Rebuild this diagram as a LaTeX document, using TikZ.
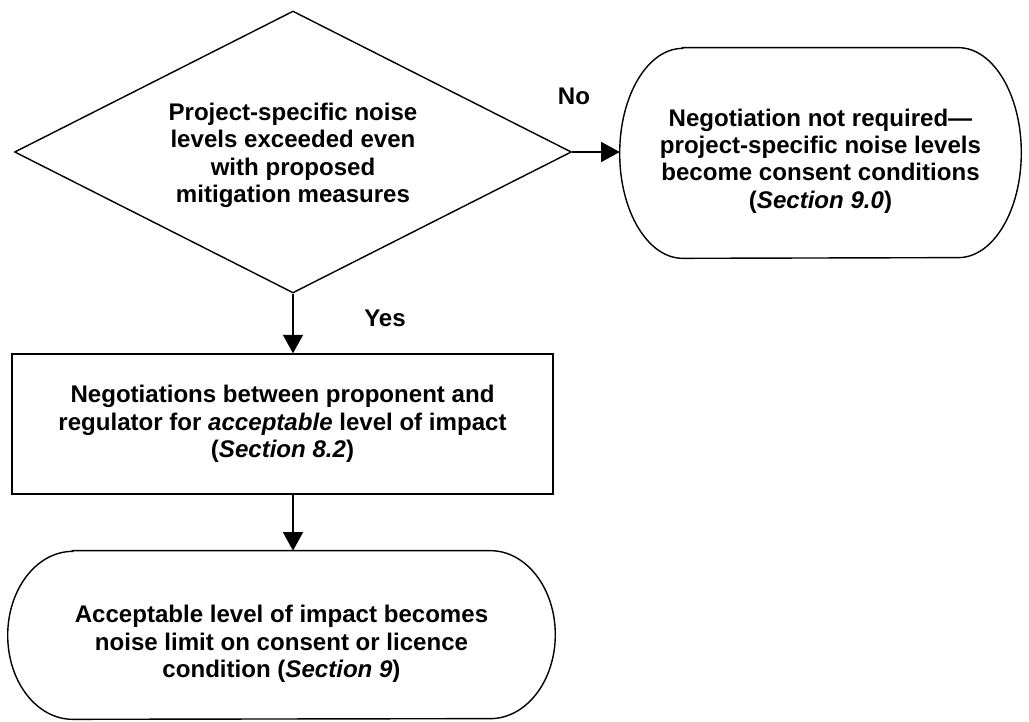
\documentclass[tikz,border=0pt]{standalone}
\usepackage{fontspec}
\setmainfont{Liberation Sans}
\usetikzlibrary{shapes.geometric,arrows.meta}
\begin{document}
\begin{tikzpicture}[x=0.02cm,y=-0.02cm,
  font=\fontsize{13.7}{15.6}\selectfont\bfseries,
  every node/.style={align=center,inner sep=0pt},
  outline/.style={line width=0.8pt},
  arr/.style={line width=0.8pt,-{Triangle[length=0.37cm,width=0.4cm]}}]
\useasboundingbox (0,0) rectangle (1029,722);
\node[diamond,draw,outline,minimum width=11.14cm,minimum height=5.64cm,
  label={[yshift=-0.07cm]center:{Project-specific noise\\levels exceeded even\\with proposed\\mitigation measures}}] (test) at (293,152) {};
\node[minimum width=8.02cm,minimum height=4.2cm,
  label={[yshift=-0.16cm]center:{Negotiation not required—\\project-specific noise levels\\become consent conditions\\(\textit{Section 9.0})}}] (notreq) at (820.5,153) {};
\draw[outline] ([xshift=1.26cm]notreq.north west) -- ([xshift=-1.26cm]notreq.north east)
  arc[start angle=90,end angle=-90,x radius=1.26cm,y radius=2.1cm]
  -- ([xshift=1.26cm]notreq.south west)
  arc[start angle=270,end angle=90,x radius=1.26cm,y radius=2.1cm] -- cycle;
\node[draw,outline,minimum width=10.82cm,minimum height=2.8cm] (talks) at (282.5,424) {Negotiations between proponent and\\regulator for \textit{acceptable} level of impact\\(\textit{Section 8.2})};
\node[minimum width=10.94cm,minimum height=3.36cm,
  label={[yshift=-0.18cm]center:{Acceptable level of impact becomes\\noise limit on consent or licence\\condition (\textit{Section 9})}}] (limit) at (281.5,635) {};
\draw[outline] ([xshift=1.3cm]limit.north west) -- ([xshift=-1.3cm]limit.north east)
  arc[start angle=90,end angle=-90,x radius=1.3cm,y radius=1.68cm]
  -- ([xshift=1.3cm]limit.south west)
  arc[start angle=270,end angle=90,x radius=1.3cm,y radius=1.68cm] -- cycle;
% connectors
\draw[arr] (test.east) -- (notreq.west |- test.east);
\draw[arr] (test.south) -- (test.south |- talks.north);
\draw[arr] (talks.south -| test.south) -- (limit.north -| test.south);
\node (no) at (574,96) {No};
\node (yes) at (385,318) {Yes};
\end{tikzpicture}
\end{document}
